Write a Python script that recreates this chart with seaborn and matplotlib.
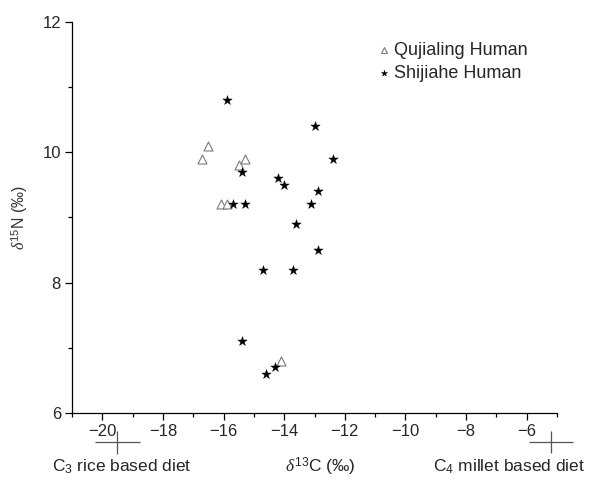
import matplotlib
matplotlib.use("Agg")
import matplotlib.pyplot as plt
import seaborn as sns
import pandas as pd

# Qujialing human (open triangles)
quj_c = [-16.5, -16.7, -15.3, -15.5, -16.1, -15.9, -14.1]
quj_n = [10.1, 9.9, 9.9, 9.8, 9.2, 9.2, 6.8]

# Shijiahe human (stars)
shi_c = [-15.9, -13.0, -12.4, -15.4, -14.2, -14.0, -12.9, -15.7, -15.3,
         -13.1, -13.6, -12.9, -14.7, -13.7, -15.4, -14.3, -14.6]
shi_n = [10.8, 10.4, 9.9, 9.7, 9.6, 9.5, 9.4, 9.2, 9.2,
         9.2, 8.9, 8.5, 8.2, 8.2, 7.1, 6.7, 6.6]

# diet end-member crosses below the axis
ref_c = [-19.5, -5.2]
ref_n = [5.55, 5.55]
ref_cerr = [0.73, 0.72]
ref_nerr = [0.18, 0.17]

quj = pd.DataFrame({"d13C": quj_c, "d15N": quj_n})
shi = pd.DataFrame({"d13C": shi_c, "d15N": shi_n})

sns.set_style("ticks")
plt.rcParams["font.family"] = ["Liberation Sans", "DejaVu Sans"]
plt.rcParams["mathtext.fontset"] = "custom"
plt.rcParams["mathtext.rm"] = "Liberation Sans"
plt.rcParams["mathtext.it"] = "Liberation Serif:italic"

fig = plt.figure(figsize=(5.96, 4.8), dpi=100)
ax = fig.add_axes([0.1208, 0.1396, 0.8138, 0.8146])

sns.scatterplot(data=quj, x="d13C", y="d15N", marker="^", s=42,
                facecolor="white", edgecolor="#7a7a7a", linewidth=0.8,
                label="Qujialing Human", ax=ax, zorder=3)
sns.scatterplot(data=shi, x="d13C", y="d15N", marker="*", s=50,
                color="black", edgecolor="black", linewidth=0.3,
                label="Shijiahe Human", ax=ax, zorder=4)

eb = ax.errorbar(ref_c, ref_n, xerr=ref_cerr, yerr=ref_nerr, fmt="none",
                 ecolor="#555555", elinewidth=0.9, capsize=0)
for col in eb.lines[2]:
    col.set_clip_on(False)

ax.set_xlim(-21, -5)
ax.set_ylim(6, 12)
ax.set_xticks([-20, -18, -16, -14, -12, -10, -8, -6])
ax.set_xticks(range(-21, -4), minor=True)
ax.set_yticks([6, 8, 10, 12])
ax.set_yticks([7, 9, 11], minor=True)
ax.tick_params(which="major", direction="out", length=5, width=0.9,
               labelsize=12, pad=3, color="black")
ax.tick_params(which="minor", direction="out", length=2.8, width=0.9,
               color="black")
sns.despine(ax=ax)
for sp in ["left", "bottom"]:
    ax.spines[sp].set_linewidth(0.9)
    ax.spines[sp].set_color("black")

ax.set_xlabel("")
ax.set_ylabel(r"$\mathit{\delta}^{15}$N (‰)", fontsize=11.5, color="#333333",
              labelpad=9)

fig.text(52 / 596, 1 - 467 / 480, r"C$_3$ rice based diet", fontsize=12.5,
         va="center", ha="left")
fig.text(320 / 596, 1 - 467 / 480, r"$\mathit{\delta}^{13}$C (‰)", fontsize=12.5,
         va="center", ha="center")
fig.text(433 / 596, 1 - 467 / 480, r"C$_4$ millet based diet", fontsize=12.5,
         va="center", ha="left")

ax.legend(frameon=False, loc="upper left",
          bbox_to_anchor=(371 / 596, 1 - 35 / 480),
          bbox_transform=fig.transFigure, fontsize=13,
          handlelength=0.6, handletextpad=0.3, labelspacing=0.3,
          markerscale=0.65, borderaxespad=0)

fig.savefig("out.png", dpi=100)
